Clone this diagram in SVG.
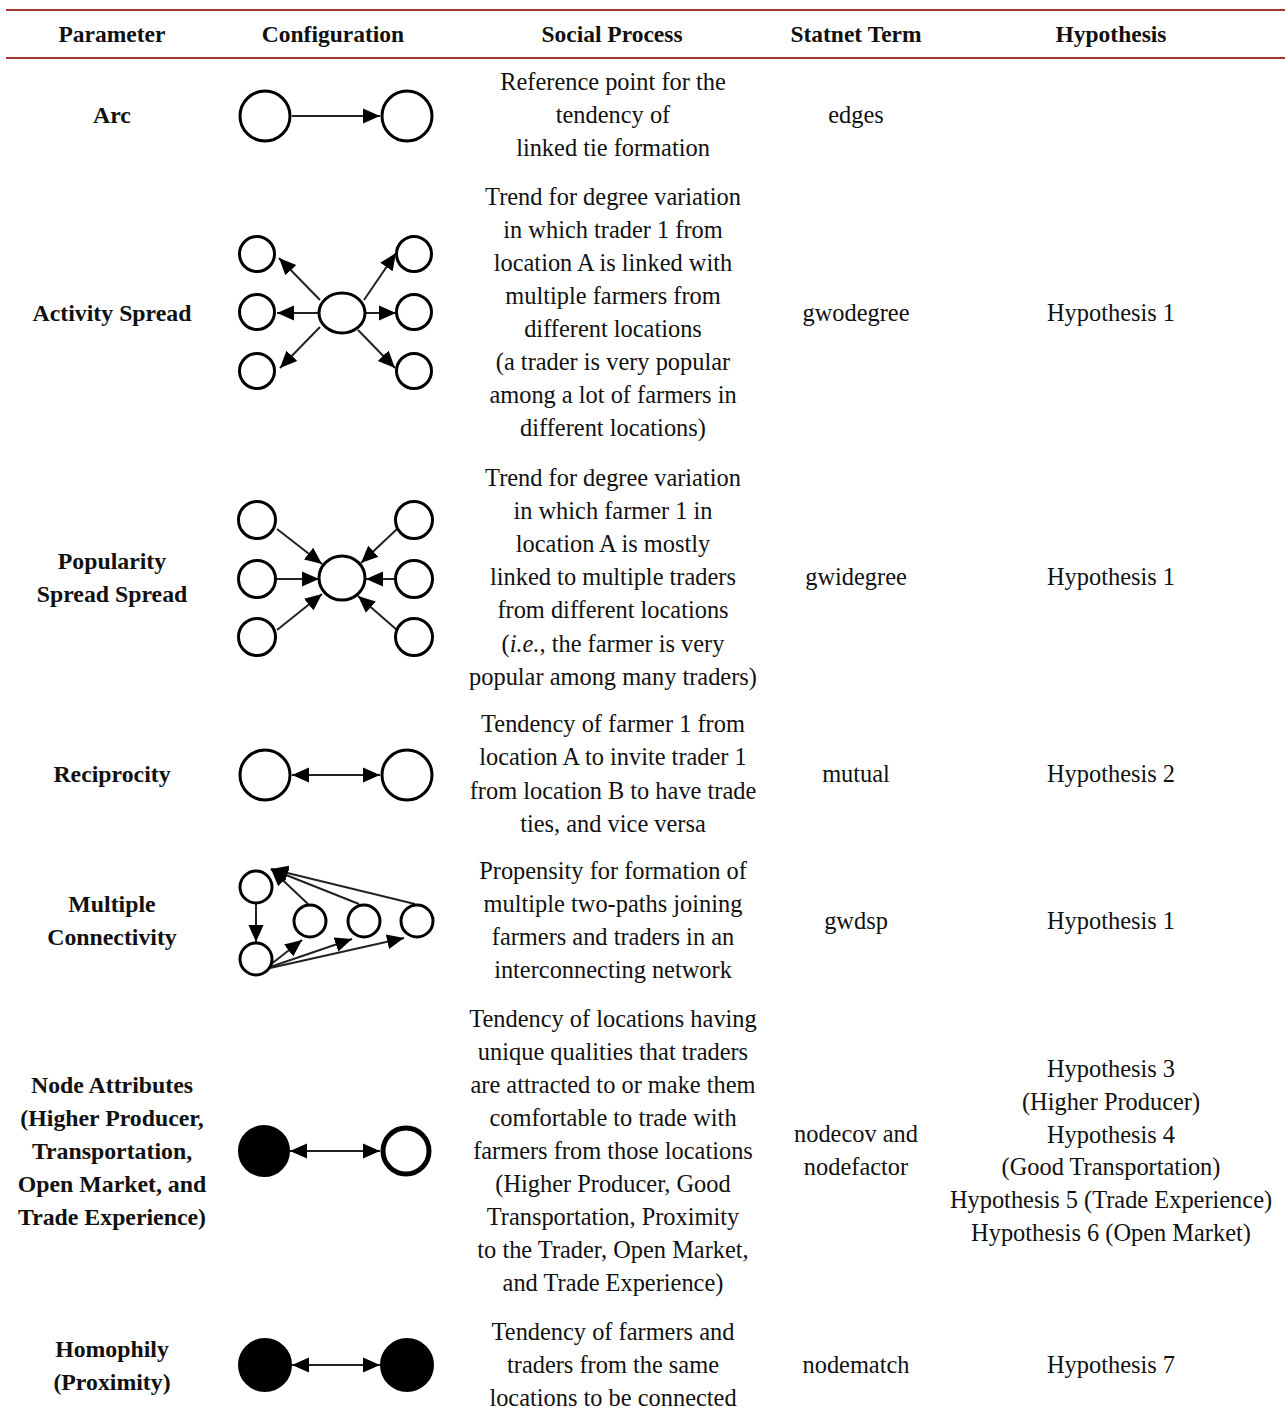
<svg xmlns="http://www.w3.org/2000/svg" width="1285" height="1418" viewBox="0 0 1285 1418">
<style>
text{font-family:"Liberation Serif","Times New Roman",serif;fill:#111;text-anchor:middle}
.h{font-size:23.5px;font-weight:bold}
.p{font-size:23.8px;font-weight:bold}
.t{font-size:24.4px}
.rule{stroke:#a3372f;stroke-width:2}
.n{fill:#fff;stroke:#000;stroke-width:3}
.f{fill:#000;stroke:#000;stroke-width:2}
.e{stroke:#222;stroke-width:2;fill:none}
.a{marker-end:url(#ah)}
.b{marker-start:url(#ah);marker-end:url(#ah)}
</style>
<defs>
<marker id="ah" markerUnits="userSpaceOnUse" markerWidth="18" markerHeight="18" viewBox="0 0 18 18" refX="17" refY="9" orient="auto-start-reverse">
<path d="M0,1.5 L17,9 L0,16.5 z" fill="#000"/>
</marker>
</defs>
<rect width="1285" height="1418" fill="#fff"/>
<g id="rules">
<line class="rule" x1="6" y1="10" x2="1285" y2="10"/>
<line class="rule" x1="6" y1="58" x2="1285" y2="58"/>
</g>
<g id="header" class="h">
<text x="112" y="42">Parameter</text>
<text x="333" y="42">Configuration</text>
<text x="612" y="42">Social Process</text>
<text x="856" y="42">Statnet Term</text>
<text x="1111" y="42">Hypothesis</text>
</g>

<g id="row-arc">
<text class="p" x="112" y="123">Arc</text>
<text class="t" x="613" y="90">Reference point for the</text>
<text class="t" x="613" y="123">tendency of</text>
<text class="t" x="613" y="156">linked tie formation</text>
<text class="t" x="856" y="123">edges</text>
</g>
<g id="row-activity">
<text class="p" x="112" y="321">Activity Spread</text>
<text class="t" x="613" y="205">Trend for degree variation</text>
<text class="t" x="613" y="238">in which trader 1 from</text>
<text class="t" x="613" y="271">location A is linked with</text>
<text class="t" x="613" y="304">multiple farmers from</text>
<text class="t" x="613" y="337">different locations</text>
<text class="t" x="613" y="370">(a trader is very popular</text>
<text class="t" x="613" y="403">among a lot of farmers in</text>
<text class="t" x="613" y="436">different locations)</text>
<text class="t" x="856" y="321">gwodegree</text>
<text class="t" x="1111" y="321">Hypothesis 1</text>
</g>
<g id="row-popularity">
<text class="p" x="112" y="569">Popularity</text>
<text class="p" x="112" y="602">Spread Spread</text>
<text class="t" x="613" y="486">Trend for degree variation</text>
<text class="t" x="613" y="519">in which farmer 1 in</text>
<text class="t" x="613" y="552">location A is mostly</text>
<text class="t" x="613" y="585">linked to multiple traders</text>
<text class="t" x="613" y="618">from different locations</text>
<text class="t" x="613" y="652">(<tspan font-style="italic">i.e.</tspan>, the farmer is very</text>
<text class="t" x="613" y="685">popular among many traders)</text>
<text class="t" x="856" y="585">gwidegree</text>
<text class="t" x="1111" y="585">Hypothesis 1</text>
</g>
<g id="row-reciprocity">
<text class="p" x="112" y="782">Reciprocity</text>
<text class="t" x="613" y="732">Tendency of farmer 1 from</text>
<text class="t" x="613" y="765">location A to invite trader 1</text>
<text class="t" x="613" y="799">from location B to have trade</text>
<text class="t" x="613" y="832">ties, and vice versa</text>
<text class="t" x="856" y="782">mutual</text>
<text class="t" x="1111" y="782">Hypothesis 2</text>
</g>
<g id="row-multiple">
<text class="p" x="112" y="912">Multiple</text>
<text class="p" x="112" y="945">Connectivity</text>
<text class="t" x="613" y="879">Propensity for formation of</text>
<text class="t" x="613" y="912">multiple two-paths joining</text>
<text class="t" x="613" y="945">farmers and traders in an</text>
<text class="t" x="613" y="978">interconnecting network</text>
<text class="t" x="856" y="929">gwdsp</text>
<text class="t" x="1111" y="929">Hypothesis 1</text>
</g>
<g id="row-nodeattr">
<text class="p" x="112" y="1093">Node Attributes</text>
<text class="p" x="112" y="1126">(Higher Producer,</text>
<text class="p" x="112" y="1159">Transportation,</text>
<text class="p" x="112" y="1192">Open Market, and</text>
<text class="p" x="112" y="1225">Trade Experience)</text>
<text class="t" x="613" y="1027">Tendency of locations having</text>
<text class="t" x="613" y="1060">unique qualities that traders</text>
<text class="t" x="613" y="1093">are attracted to or make them</text>
<text class="t" x="613" y="1126">comfortable to trade with</text>
<text class="t" x="613" y="1159">farmers from those locations</text>
<text class="t" x="613" y="1192">(Higher Producer, Good</text>
<text class="t" x="613" y="1225">Transportation, Proximity</text>
<text class="t" x="613" y="1258">to the Trader, Open Market,</text>
<text class="t" x="613" y="1291">and Trade Experience)</text>
<text class="t" x="856" y="1142">nodecov and</text>
<text class="t" x="856" y="1175">nodefactor</text>
<text class="t" x="1111" y="1077">Hypothesis 3</text>
<text class="t" x="1111" y="1110">(Higher Producer)</text>
<text class="t" x="1111" y="1143">Hypothesis 4</text>
<text class="t" x="1111" y="1175">(Good Transportation)</text>
<text class="t" x="1111" y="1208">Hypothesis 5 (Trade Experience)</text>
<text class="t" x="1111" y="1241">Hypothesis 6 (Open Market)</text>
</g>
<g id="row-homophily">
<text class="p" x="112" y="1357">Homophily</text>
<text class="p" x="112" y="1390">(Proximity)</text>
<text class="t" x="613" y="1340">Tendency of farmers and</text>
<text class="t" x="613" y="1373">traders from the same</text>
<text class="t" x="613" y="1406">locations to be connected</text>
<text class="t" x="856" y="1373">nodematch</text>
<text class="t" x="1111" y="1373">Hypothesis 7</text>
</g>

<g id="connectors">
<line class="e a" x1="292" y1="116" x2="380" y2="116"/>
<line class="e a" x1="320" y1="300" x2="279" y2="258"/>
<line class="e a" x1="318" y1="313" x2="277" y2="313"/>
<line class="e a" x1="320" y1="327" x2="280" y2="368"/>
<line class="e a" x1="364" y1="300" x2="396" y2="253"/>
<line class="e a" x1="366" y1="313" x2="396" y2="313"/>
<line class="e a" x1="358" y1="330" x2="395" y2="368"/>
<line class="e a" x1="277" y1="529" x2="322" y2="564"/>
<line class="e a" x1="277" y1="579" x2="319" y2="579"/>
<line class="e a" x1="277" y1="630" x2="322" y2="594"/>
<line class="e a" x1="397" y1="529" x2="361" y2="563"/>
<line class="e a" x1="395" y1="579" x2="366" y2="579"/>
<line class="e a" x1="397" y1="630" x2="358" y2="596"/>
<line class="e b" x1="292" y1="775" x2="380" y2="775"/>
<line class="e a" x1="256" y1="904" x2="256" y2="942"/>
<line class="e a" x1="308" y1="904" x2="271" y2="869"/>
<line class="e a" x1="359" y1="904" x2="271" y2="869"/>
<line class="e a" x1="415" y1="904" x2="271" y2="869"/>
<line class="e a" x1="270" y1="965" x2="302" y2="940"/>
<line class="e a" x1="270" y1="967" x2="352" y2="939"/>
<line class="e a" x1="270" y1="968" x2="404" y2="938"/>
<line class="e b" x1="290" y1="1151" x2="380" y2="1151"/>
<line class="e b" x1="292" y1="1365" x2="380" y2="1365"/>
</g>

<g id="nodes">
<g id="arc-nodes"><circle class="n" cx="265" cy="116" r="25"/><circle class="n" cx="407" cy="116" r="25"/></g>
<g id="activity-nodes">
<ellipse class="n" cx="342" cy="313" rx="23" ry="20"/>
<circle class="n" cx="257" cy="254" r="17.5"/><circle class="n" cx="257" cy="312" r="17.5"/><circle class="n" cx="257" cy="371" r="17.5"/>
<circle class="n" cx="414" cy="254" r="17.5"/><circle class="n" cx="414" cy="312" r="17.5"/><circle class="n" cx="414" cy="371" r="17.5"/>
</g>
<g id="popularity-nodes">
<ellipse class="n" cx="342" cy="578" rx="23" ry="22"/>
<circle class="n" cx="257" cy="520" r="18.5"/><circle class="n" cx="257" cy="579" r="18.5"/><circle class="n" cx="257" cy="637" r="18.5"/>
<circle class="n" cx="414" cy="520" r="18.5"/><circle class="n" cx="414" cy="579" r="18.5"/><circle class="n" cx="414" cy="637" r="18.5"/>
</g>
<g id="reciprocity-nodes"><circle class="n" cx="265" cy="775" r="25"/><circle class="n" cx="407" cy="775" r="25"/></g>
<g id="multiple-nodes">
<circle class="n" cx="256" cy="887" r="16"/><circle class="n" cx="256" cy="959" r="16"/>
<circle class="n" cx="310" cy="921" r="16"/><circle class="n" cx="364" cy="921" r="16"/><circle class="n" cx="417" cy="921" r="16"/>
</g>
<g id="nodeattr-nodes"><circle class="f" cx="264" cy="1151" r="25"/><circle class="n" cx="406" cy="1151" r="23" style="stroke-width:5"/></g>
<g id="homophily-nodes"><circle class="f" cx="265" cy="1365" r="26"/><circle class="f" cx="407" cy="1365" r="26"/></g>
</g>
</svg>
